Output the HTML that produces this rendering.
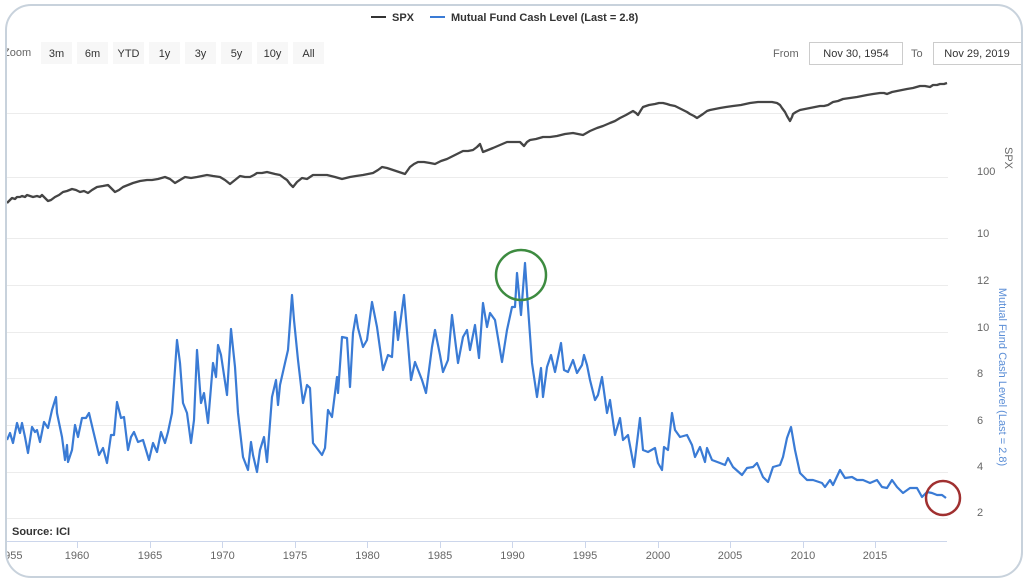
<!DOCTYPE html>
<html>
<head>
<meta charset="utf-8">
<style>
  html,body{margin:0;padding:0;background:#fff;}
  body{width:1028px;height:583px;overflow:hidden;position:relative;font-family:"Liberation Sans",sans-serif;}
  svg{position:absolute;left:0;top:0;}
</style>
</head>
<body>
<svg width="1028" height="583" viewBox="0 0 1028 583" xmlns="http://www.w3.org/2000/svg" font-family="Liberation Sans, sans-serif">
  <rect x="0" y="0" width="1028" height="583" fill="#ffffff"/>

  <!-- legend -->
  <line x1="371" y1="17" x2="386" y2="17" stroke="#333" stroke-width="2"/>
  <text x="392" y="21" font-size="11" font-weight="bold" fill="#333">SPX</text>
  <line x1="430" y1="17" x2="445" y2="17" stroke="#3a7bd5" stroke-width="2"/>
  <text x="451" y="21" font-size="11" font-weight="bold" fill="#333">Mutual Fund Cash Level (Last = 2.8)</text>

  <!-- range selector -->
  <text x="3" y="56" font-size="11" fill="#666">Zoom</text>
  <g font-size="11" fill="#333" text-anchor="middle">
    <rect x="41" y="42" width="31" height="22" fill="#f7f7f7"/><text x="56.5" y="57">3m</text>
    <rect x="77" y="42" width="31" height="22" fill="#f7f7f7"/><text x="92.5" y="57">6m</text>
    <rect x="113" y="42" width="31" height="22" fill="#f7f7f7"/><text x="128.5" y="57">YTD</text>
    <rect x="149" y="42" width="31" height="22" fill="#f7f7f7"/><text x="164.5" y="57">1y</text>
    <rect x="185" y="42" width="31" height="22" fill="#f7f7f7"/><text x="200.5" y="57">3y</text>
    <rect x="221" y="42" width="31" height="22" fill="#f7f7f7"/><text x="236.5" y="57">5y</text>
    <rect x="257" y="42" width="31" height="22" fill="#f7f7f7"/><text x="272.5" y="57">10y</text>
    <rect x="293" y="42" width="31" height="22" fill="#f7f7f7"/><text x="308.5" y="57">All</text>
  </g>
  <text x="773" y="57" font-size="11" fill="#666">From</text>
  <rect x="809.5" y="42.5" width="93" height="22" fill="#fff" stroke="#ccc" stroke-width="1"/>
  <text x="856" y="57" font-size="11" fill="#333" text-anchor="middle">Nov 30, 1954</text>
  <text x="911" y="57" font-size="11" fill="#666">To</text>
  <rect x="933.5" y="42.5" width="90" height="22" fill="#fff" stroke="#ccc" stroke-width="1"/>
  <text x="977" y="57" font-size="11" fill="#333" text-anchor="middle">Nov 29, 2019</text>

  <!-- gridlines -->
  <g stroke="#ececec" stroke-width="1">
    <line x1="7" y1="113.5" x2="948" y2="113.5"/>
    <line x1="7" y1="177.5" x2="948" y2="177.5"/>
    <line x1="7" y1="238.5" x2="948" y2="238.5"/>
    <line x1="7" y1="285.5" x2="948" y2="285.5"/>
    <line x1="7" y1="332.5" x2="948" y2="332.5"/>
    <line x1="7" y1="378.5" x2="948" y2="378.5"/>
    <line x1="7" y1="425.5" x2="948" y2="425.5"/>
    <line x1="7" y1="472.5" x2="948" y2="472.5"/>
    <line x1="7" y1="518.5" x2="948" y2="518.5"/>
  </g>

  <!-- y labels -->
  <g font-size="11" fill="#666">
    <text x="977" y="175">100</text>
    <text x="977" y="237">10</text>
    <text x="977" y="284">12</text>
    <text x="977" y="331">10</text>
    <text x="977" y="377">8</text>
    <text x="977" y="424">6</text>
    <text x="977" y="470">4</text>
    <text x="977" y="516">2</text>
  </g>
  <text transform="translate(1005,158) rotate(90)" font-size="11" fill="#666" text-anchor="middle">SPX</text>
  <text transform="translate(999,377) rotate(90)" font-size="11" fill="#5b8ed6" text-anchor="middle">Mutual Fund Cash Level (Last = 2.8)</text>

  <!-- x axis -->
  <line x1="7" y1="541.5" x2="947" y2="541.5" stroke="#ccd6eb" stroke-width="1"/>
  <g stroke="#ccd6eb" stroke-width="1">
    <line x1="77.5" y1="541" x2="77.5" y2="548"/>
    <line x1="150.5" y1="541" x2="150.5" y2="548"/>
    <line x1="222.5" y1="541" x2="222.5" y2="548"/>
    <line x1="295.5" y1="541" x2="295.5" y2="548"/>
    <line x1="367.5" y1="541" x2="367.5" y2="548"/>
    <line x1="440.5" y1="541" x2="440.5" y2="548"/>
    <line x1="512.5" y1="541" x2="512.5" y2="548"/>
    <line x1="585.5" y1="541" x2="585.5" y2="548"/>
    <line x1="658.5" y1="541" x2="658.5" y2="548"/>
    <line x1="730.5" y1="541" x2="730.5" y2="548"/>
    <line x1="803.5" y1="541" x2="803.5" y2="548"/>
    <line x1="875.5" y1="541" x2="875.5" y2="548"/>
  </g>
  <g font-size="11" fill="#666" text-anchor="middle">
    <text x="-2" y="559" text-anchor="start">1955</text>
    <text x="77" y="559">1960</text>
    <text x="150" y="559">1965</text>
    <text x="222.5" y="559">1970</text>
    <text x="295" y="559">1975</text>
    <text x="367.5" y="559">1980</text>
    <text x="440" y="559">1985</text>
    <text x="512.5" y="559">1990</text>
    <text x="585" y="559">1995</text>
    <text x="658" y="559">2000</text>
    <text x="730" y="559">2005</text>
    <text x="803" y="559">2010</text>
    <text x="875" y="559">2015</text>
  </g>

  <text x="12" y="535" font-size="11" font-weight="bold" fill="#333">Source: ICI</text>

  <!-- SPX series -->
  <polyline fill="none" stroke="#454545" stroke-width="2.3" stroke-linejoin="round" points="7,203 10,200 12,198 15,199 17,197 20,197 22,196 25,197 27,195 30,196 33,197 37,196 40,197 42,195 45,198 48,201 51,200 55,197 59,195 63,192 67,191 72,189 76,190 80,192 84,191 88,193 92,190 97,187 103,186 108,185 111,188 115,192 119,190 123,187 128,185 133,183 140,181 147,180 152,180 158,179 165,177 170,179 175,183 180,180 185,177 191,178 197,177 202,176 207,175 213,176 220,177 225,180 230,184 235,180 240,176 245,177 250,177 254,175 257,173 262,173 267,172 271,173 275,174 280,175 284,178 287,180 290,184 293,187 297,182 302,178 307,179 310,177 313,175 320,175 327,175 331,176 335,177 342,179 346,178 350,177 356,176 363,175 368,174 373,173 378,170 382,167 387,168 393,170 399,172 405,174 410,167 414,164 418,162 424,162 430,163 435,164 441,161 447,159 451,157 455,155 459,153 463,151 468,151 473,150 477,147 480,144 483,152 488,150 493,148 500,145 507,142 513,142 520,142 524,146 527,142 530,140 536,139 543,137 550,137 557,136 565,134 573,133 578,134 583,135 590,131 597,128 603,126 610,123 615,121 620,118 626,115 633,111 636,113 638,115 641,110 643,107 649,105 655,104 659,103 663,103 667,104 670,105 675,106 679,108 683,110 687,112 690,114 694,116 697,118 700,116 703,114 707,111 710,110 715,109 720,108 726,107 733,106 741,105 750,103 758,102 767,102 772,102 777,103 780,105 782,108 785,112 787,116 790,121 792,117 793,114 796,112 800,110 805,109 810,108 815,107 820,106 824,106 828,105 833,102 838,101 843,99 850,98 857,97 862,96 867,95 873,94 880,93 884,93 887,94 892,92 897,91 902,90 907,89 913,88 920,86 925,86 930,87 933,85 937,85 940,84 944,84 947,83"/>

  <!-- Mutual fund cash series -->
  <polyline fill="none" stroke="#3a7bd5" stroke-width="2.2" stroke-linejoin="round" points="7,440 10,433 13,443 17,423 20,433 22,423 25,437 28,453 32,427 35,432 37,430 40,442 44,422 48,428 52,410 56,397 57,413 62,437 65,460 67,445 68,462 72,450 75,425 78,437 82,418 86,418 89,413 93,430 99,455 103,448 107,463 111,435 114,435 117,402 121,418 124,417 128,450 131,437 134,432 138,442 143,440 149,460 153,443 157,452 161,432 165,443 168,432 172,413 177,340 180,363 183,403 187,413 191,443 194,420 197,350 201,403 204,393 208,423 213,363 216,377 218,345 221,355 227,395 231,329 235,367 238,413 243,457 248,470 251,442 253,455 257,472 260,450 264,437 267,462 272,397 276,380 278,405 280,385 285,363 288,350 292,295 294,320 298,360 303,403 307,385 310,388 313,443 322,455 325,448 328,410 332,417 337,377 338,393 342,337 347,338 350,387 353,333 356,315 358,328 363,347 367,340 372,302 377,327 383,370 388,355 392,357 395,312 398,340 404,295 411,380 415,362 422,380 426,393 432,347 435,330 440,355 443,372 448,360 452,315 458,363 463,337 467,330 470,350 475,325 479,358 483,303 487,327 490,313 495,320 502,362 507,330 512,307 515,307 517,273 521,315 525,263 528,307 532,363 537,397 541,368 543,397 547,367 551,355 555,372 561,343 564,370 568,372 573,360 577,373 582,365 584,355 587,365 590,380 595,400 598,395 602,377 607,413 610,400 615,435 620,418 623,440 628,435 634,467 640,418 643,450 648,452 655,448 658,463 662,470 664,447 668,450 672,413 675,430 680,437 687,435 692,445 695,457 700,447 705,462 707,448 712,460 720,463 725,465 728,458 733,467 742,475 747,468 753,467 757,463 763,477 768,482 773,467 780,465 783,457 787,438 791,427 795,450 800,473 807,480 813,480 822,483 825,487 830,480 833,485 840,470 845,478 852,477 857,480 863,480 870,483 877,480 882,487 887,488 892,480 897,487 903,493 910,488 917,488 922,497 927,492 932,493 937,495 942,495 946,498"/>

  <!-- annotation circles -->
  <circle cx="521" cy="275" r="25" fill="none" stroke="#3d8b40" stroke-width="2.5"/>
  <circle cx="943" cy="498" r="17" fill="none" stroke="#a03030" stroke-width="2.5"/>

  <!-- outer frame with white mask outside -->
  <path fill="#ffffff" fill-rule="evenodd" d="M0,0 H1028 V583 H0 Z M31,5 H997 A25,25 0 0 1 1022,30 V552 A25,25 0 0 1 997,577 H31 A25,25 0 0 1 6,552 V30 A25,25 0 0 1 31,5 Z"/>
  <rect x="6" y="5" width="1016" height="572" rx="25" ry="25" fill="none" stroke="#c8d2dc" stroke-width="2"/>
</svg>
</body>
</html>
